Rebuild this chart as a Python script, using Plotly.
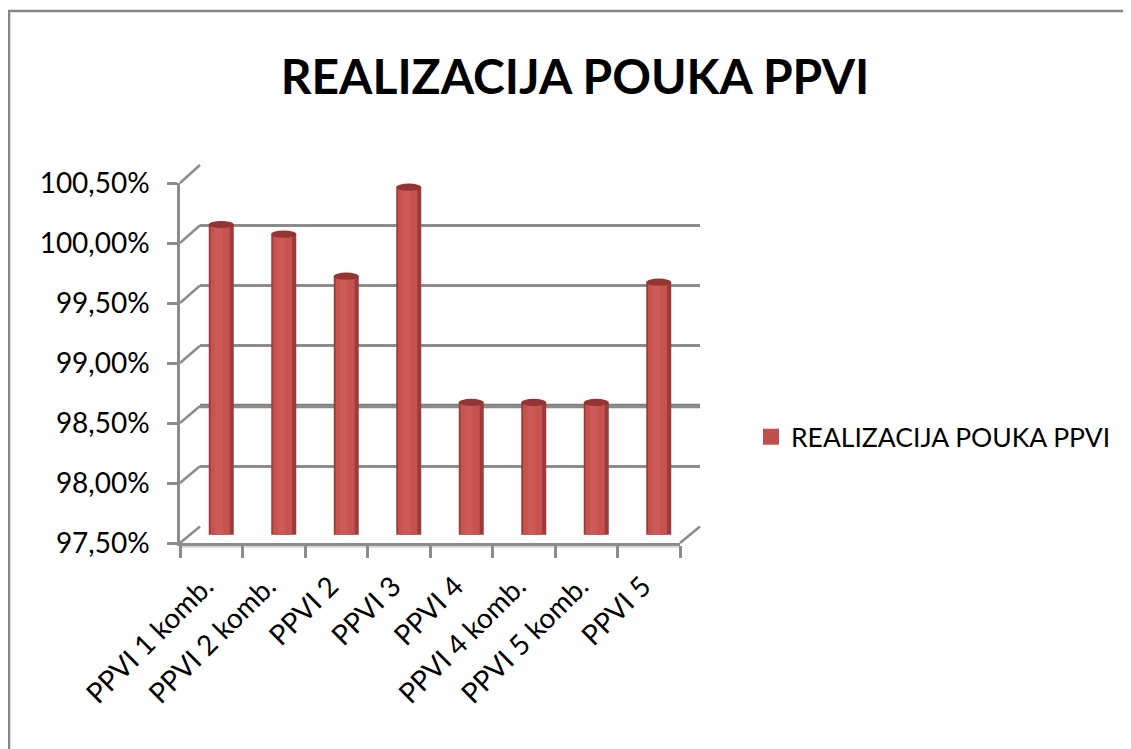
import plotly.graph_objects as go

categories = ["PPVI 1 komb.", "PPVI 2 komb.", "PPVI 2", "PPVI 3", "PPVI 4",
              "PPVI 4 komb.", "PPVI 5 komb.", "PPVI 5"]
values = [100.08, 100.00, 99.65, 100.39, 98.60, 98.60, 98.60, 99.60]
series_name = "REALIZACIJA POUKA PPVI"
title_text = "REALIZACIJA POUKA PPVI"
tick_vals = [97.5, 98.0, 98.5, 99.0, 99.5, 100.0, 100.5]
tick_text = ["97,50%", "98,00%", "98,50%", "99,00%", "99,50%", "100,00%", "100,50%"]

W, H = 1131, 749
OFF = 8  # page body margin
def fx(p): return (p - OFF) / W
def fy(p): return 1 - (p - OFF) / H

# pixel geometry of the pseudo-3D box (screen pixels)
XF = (180, 680); YF = (543, 183)      # front (bottom, top)
XB = (200, 700); YB = (526.5, 165)    # back wall
XM = ((XF[0] + XB[0]) / 2, (XF[1] + XB[1]) / 2)
YM = ((YF[0] + YB[0]) / 2, (YF[1] + YB[1]) / 2)
YR = [tick_vals[0], tick_vals[-1]]

GRID = "#8C8C8C"
FONT = "Lato, Open Sans, sans-serif"

fig = go.Figure()

fig.add_trace(go.Scatter(x=categories, y=values, mode="markers", marker=dict(opacity=0),
                         hoverinfo="skip", showlegend=False, xaxis="x", yaxis="y"))
fig.add_trace(go.Scatter(x=categories, y=values, mode="markers", marker=dict(opacity=0),
                         hoverinfo="skip", showlegend=False, xaxis="x2", yaxis="y2"))
# cylinders (layered bars for shading)
BW = 0.40
fig.add_trace(go.Bar(x=categories, y=values, width=BW, offset=-BW / 2,
                     marker=dict(color="#9C3C3A", line=dict(width=0)),
                     showlegend=False, xaxis="x3", yaxis="y3", name=series_name))
fig.add_trace(go.Bar(x=categories, y=values, width=BW * 0.76, offset=-BW / 2 + 0.03,
                     marker=dict(color="#C65350", line=dict(width=0)),
                     showlegend=False, xaxis="x3", yaxis="y3", hoverinfo="skip"))
fig.add_trace(go.Bar(x=categories, y=values, width=0.12, offset=-0.10,
                     marker=dict(color="#CD5A57", line=dict(width=0)),
                     showlegend=False, xaxis="x3", yaxis="y3", hoverinfo="skip"))
fig.add_trace(go.Scatter(x=[None], y=[None], mode="markers", name=series_name,
                         marker=dict(symbol="square", size=17, color="#C0504D"),
                         xaxis="x3", yaxis="y3"))

shapes = []
for i, v in enumerate(values):
    shapes.append(dict(type="circle", xref="x3", yref="y3",
                       x0=i - BW / 2, x1=i + BW / 2, y0=v - 0.03, y1=v + 0.03,
                       fillcolor="#923533", line=dict(width=0), layer="above"))
def yfront(v): return YF[0] + (v - YR[0]) / (YR[1] - YR[0]) * (YF[1] - YF[0])
def yback(v): return YB[0] + (v - YR[0]) / (YR[1] - YR[0]) * (YB[1] - YB[0])
for v in tick_vals:
    shapes.append(dict(type="line", xref="paper", yref="paper",
                       x0=fx(XF[0]), y0=fy(yfront(v)), x1=fx(XB[0]), y1=fy(yback(v)),
                       line=dict(color=GRID, width=2.5), layer="below"))
shapes.append(dict(type="line", xref="paper", yref="paper",
                   x0=fx(XF[1]), y0=fy(YF[0]), x1=fx(XB[1]), y1=fy(YB[0]),
                   line=dict(color=GRID, width=2.5), layer="below"))
shapes.append(dict(type="line", xref="paper", yref="paper",
                   x0=fx(XF[0]), y0=fy(YF[0] + 3.5), x1=fx(XF[1]), y1=fy(YF[0] + 3.5),
                   line=dict(color="#DDDDDD", width=3), layer="below"))
shapes.append(dict(type="line", xref="x domain", yref="y", x0=0, x1=1, y0=98.5, y1=98.5,
                   line=dict(color="#7F7F7F", width=4.5), layer="below"))
shapes.append(dict(type="rect", xref="paper", yref="paper",
                   x0=fx(9), y0=fy(770), x1=fx(1150), y1=fy(11),
                   line=dict(color="#868686", width=2.5), fillcolor="rgba(0,0,0,0)", layer="below"))

common_y = dict(range=YR, fixedrange=True, zeroline=False)
fig.update_layout(
    width=W, height=H, margin=dict(l=0, r=0, t=0, b=0, autoexpand=False),
    paper_bgcolor="white", plot_bgcolor="rgba(0,0,0,0)",
    barmode="overlay", showlegend=True,
    title=dict(text=title_text, x=fx(575), y=fy(77), xanchor="center", yanchor="middle",
               font=dict(family="Lato, sans-serif", size=48, color="black", weight="bold")),
    xaxis=dict(domain=[fx(XB[0]), fx(XB[1])], anchor="y", visible=False,
               range=[-0.5, 7.5], categoryorder="array", categoryarray=categories),
    yaxis=dict(domain=[fy(YB[0]), fy(YB[1])], anchor="x", showgrid=True,
               gridcolor=GRID, gridwidth=2.5, showticklabels=False, ticks="",
               tickvals=tick_vals, showline=False, **common_y),
    xaxis2=dict(domain=[fx(XF[0]), fx(XF[1])], anchor="y2", range=[-0.5, 7.5],
                categoryorder="array", categoryarray=categories,
                showline=True, linecolor=GRID, linewidth=2.5, showgrid=False,
                ticks="outside", tickson="boundaries", ticklen=12, tickwidth=2.5,
                tickcolor=GRID, tickangle=-45, ticklabelstandoff=13, ticklabelshift=-6,
                tickfont=dict(family=FONT, size=28, color="black")),
    yaxis2=dict(domain=[fy(YF[0]), fy(YF[1])], anchor="x2", showgrid=False,
                showline=True, linecolor=GRID, linewidth=2.5, ticks="outside",
                ticklen=10, tickwidth=2.5, tickcolor=GRID, ticklabelstandoff=12,
                tickvals=tick_vals, ticktext=tick_text,
                tickfont=dict(family=FONT, size=28, color="black"), **common_y),
    xaxis3=dict(domain=[fx(XM[0]), fx(XM[1])], anchor="y3", visible=False,
                range=[-0.5, 7.5], categoryorder="array", categoryarray=categories),
    yaxis3=dict(domain=[fy(YM[0]), fy(YM[1])], anchor="x3", visible=False, **common_y),
    legend=dict(x=fx(751), y=fy(437), xanchor="left", yanchor="middle",
                bgcolor="rgba(0,0,0,0)", font=dict(family=FONT, size=26.5, color="black")),
    shapes=shapes,
)

fig.write_html("out.html")
